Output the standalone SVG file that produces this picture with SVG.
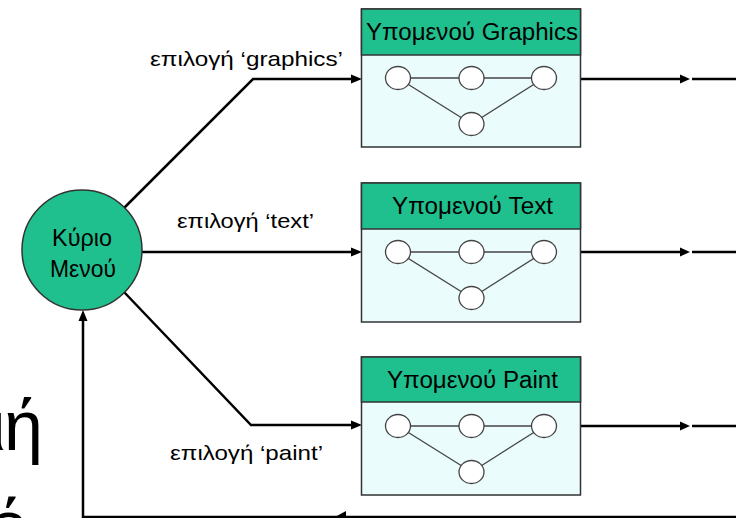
<svg xmlns="http://www.w3.org/2000/svg" width="736" height="518" viewBox="0 0 736 518">
<style>
  .conn { fill: none; stroke: #000; stroke-width: 2.5; }
  .ah { fill: #000; stroke: none; }
  .box { fill: #eafcfc; stroke: #333; stroke-width: 1.5; }
  .hdr { fill: #1fc08e; stroke: #333; stroke-width: 1.5; }
  .sc { fill: #fff; stroke: #444; stroke-width: 1.3; }
  .sl { stroke: #444; stroke-width: 1.3; fill: none; }
  .t { font-family: "Liberation Sans", Arial, sans-serif; fill: #000; }
  .ht { font-size: 23px; }
  .lb { font-size: 21px; }
</style>
<defs>
  <g id="mini">
    <line class="sl" x1="398" y1="0" x2="544" y2="0"/>
    <line class="sl" x1="398" y1="0" x2="471.5" y2="46"/>
    <line class="sl" x1="544" y1="0" x2="471.5" y2="46"/>
    <ellipse class="sc" cx="398" cy="0" rx="12.5" ry="11.5"/>
    <ellipse class="sc" cx="471.5" cy="0" rx="12.5" ry="11.5"/>
    <ellipse class="sc" cx="544" cy="0" rx="12.5" ry="11.5"/>
    <ellipse class="sc" cx="471.5" cy="46" rx="12.5" ry="11.5"/>
  </g>
</defs>

<g id="bg-text">
  <text class="t" font-size="70" x="-10 4" y="450">ιή</text>
  <text class="t" font-size="70" x="-11" y="550">ό</text>
</g>

<g id="connectors">
  <polyline class="conn" points="124,208 253,79 352,79"/>
  <polygon class="ah" points="362,79 351,74.5 351,83.5"/>
  <line class="conn" x1="142" y1="252" x2="352" y2="252"/>
  <polygon class="ah" points="362,252 351,247.5 351,256.5"/>
  <polyline class="conn" points="124,292 251,425 352,425"/>
  <polygon class="ah" points="362,425 351,420.5 351,429.5"/>
  <line class="conn" x1="581" y1="79" x2="682" y2="79"/>
  <polygon class="ah" points="690,79 680,74.5 680,83.5"/>
  <line class="conn" x1="692" y1="79" x2="736" y2="79"/>
  <line class="conn" x1="581" y1="252" x2="682" y2="252"/>
  <polygon class="ah" points="690,252 680,247.5 680,256.5"/>
  <line class="conn" x1="692" y1="252" x2="736" y2="252"/>
  <line class="conn" x1="581" y1="426" x2="682" y2="426"/>
  <polygon class="ah" points="690,426 680,421.5 680,430.5"/>
  <line class="conn" x1="692" y1="426" x2="736" y2="426"/>
  <polyline class="conn" points="736,517 83,517 83,320" stroke="#444"/>
  <polygon class="ah" points="83,310 78.5,321 87.5,321"/>
  <polygon class="ah" points="335,517 346,511 346,523"/>
</g>

<g id="labels">
  <text class="t lb" x="150" y="66" textLength="193" lengthAdjust="spacingAndGlyphs">επιλογή ‘graphics’</text>
  <text class="t lb" x="177" y="228" textLength="137" lengthAdjust="spacingAndGlyphs">επιλογή ‘text’</text>
  <text class="t lb" x="170" y="460" textLength="153" lengthAdjust="spacingAndGlyphs">επιλογή ‘paint’</text>
</g>

<g id="main-menu">
  <circle cx="82" cy="250" r="60" fill="#1fc08e" stroke="#333" stroke-width="1.5"/>
  <text class="t" font-size="23" x="82" y="246" text-anchor="middle" textLength="60" lengthAdjust="spacingAndGlyphs">Κύριο</text>
  <text class="t" font-size="23" x="83" y="277" text-anchor="middle" textLength="66" lengthAdjust="spacingAndGlyphs">Μενού</text>
</g>

<g id="sub-graphics">
  <rect class="box" x="361.5" y="9" width="219" height="138"/>
  <rect class="hdr" x="361.5" y="9" width="219" height="46"/>
  <text class="t ht" x="366" y="40" textLength="212" lengthAdjust="spacingAndGlyphs">Υπομενού Graphics</text>
  <use href="#mini" y="78"/>
</g>

<g id="sub-text">
  <rect class="box" x="361.5" y="183" width="219" height="139"/>
  <rect class="hdr" x="361.5" y="183" width="219" height="46"/>
  <text class="t ht" x="392" y="214" textLength="161" lengthAdjust="spacingAndGlyphs">Υπομενού Text</text>
  <use href="#mini" y="252"/>
</g>

<g id="sub-paint">
  <rect class="box" x="361.5" y="357" width="219" height="138"/>
  <rect class="hdr" x="361.5" y="357" width="219" height="45"/>
  <text class="t ht" x="387" y="388" textLength="171" lengthAdjust="spacingAndGlyphs">Υπομενού Paint</text>
  <use href="#mini" y="426"/>
</g>
</svg>
